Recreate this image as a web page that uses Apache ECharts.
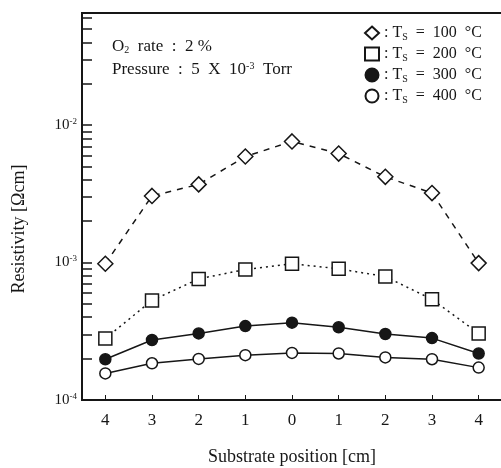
<!DOCTYPE html>
<html>
 <head>
  <meta charset="utf-8" />
  <title>Resistivity vs substrate position</title>
  <script src="https://cdn.jsdelivr.net/npm/echarts@6/dist/echarts.min.js"></script>
  <style>
   html, body { margin: 0; padding: 0; background: #fff; }
  </style>
 </head>
 <body>
  <div id="main" style="width: 501px;height:468px;"></div>
  <script type="text/javascript">

    // substrate position [cm], centre = 0
    var positions = ['4', '3', '2', '1', '0', '1', '2', '3', '4'];
    var temps = ['100', '200', '300', '400'];

    // resistivity [Ohm cm]
    var rho100 = [9.8e-4, 3.05e-3, 3.7e-3, 5.9e-3, 7.6e-3, 6.2e-3, 4.2e-3, 3.2e-3, 9.9e-4];
    var rho200 = [2.8e-4, 5.3e-4, 7.6e-4, 8.9e-4, 9.8e-4, 9.0e-4, 7.9e-4, 5.4e-4, 3.05e-4];
    var rho300 = [1.98e-4, 2.73e-4, 3.05e-4, 3.45e-4, 3.65e-4, 3.38e-4, 3.02e-4, 2.82e-4, 2.18e-4];
    var rho400 = [1.56e-4, 1.85e-4, 1.99e-4, 2.12e-4, 2.2e-4, 2.18e-4, 2.04e-4, 1.98e-4, 1.72e-4];

    var yMajor = [1e-4, 1e-3, 1e-2];
    var yMinor = [];
    [1e-4, 1e-3, 1e-2].forEach(function (d) {
        for (var k = 1; k <= 9; k++) {
            if (d * k <= 0.065) yMinor.push(d * k);
        }
    });

    var ink = '#161616';
    var serif = '"Liberation Serif", "DejaVu Serif", serif';

    var myChart = echarts.init(document.getElementById('main'));

    function mkSeries(name, data, symbol, size, fill, lineType) {
        return {
            name: name,
            type: 'line',
            data: data,
            symbol: symbol,
            symbolSize: size,
            showAllSymbol: true,
            z: 3,
            lineStyle: { color: ink, width: 1.5, type: lineType },
            itemStyle: { color: fill, borderColor: ink, borderWidth: 1.5 },
            emphasis: { disabled: true }
        };
    }

    myChart.setOption({
        animation: false,
        backgroundColor: '#fff',
        textStyle: { fontFamily: serif, color: ink },
        grid: {
            left: 82, top: 13, width: 420, height: 387,
            outerBoundsMode: 'none',
            containLabel: false,
            show: true, borderColor: ink, borderWidth: 2, backgroundColor: 'transparent'
        },
        legend: {
            orient: 'vertical',
            left: 364, top: 24,
            padding: 0,
            itemWidth: 14, itemHeight: 13,
            itemGap: 3,
            selectedMode: false,
            data: [
                { name: temps[0], icon: 'diamond' },
                { name: temps[1], icon: 'rect' },
                { name: temps[2], icon: 'circle' },
                { name: temps[3], icon: 'circle' }
            ],
            formatter: function (n) { return ': T{s|S}  =  ' + n + '  °C'; },
            textStyle: {
                fontFamily: serif, fontSize: 16, color: ink, lineHeight: 18,
                rich: { s: { fontSize: 10, lineHeight: 18, verticalAlign: 'bottom', padding: [7, 0, 0, 0], fontFamily: serif } }
            }
        },
        xAxis: {
            type: 'category',
            data: positions,
            boundaryGap: true,
            name: 'Substrate position [cm]',
            nameLocation: 'middle',
            nameGap: 48,
            nameTextStyle: { fontFamily: serif, fontSize: 18, color: ink },
            axisLine: { lineStyle: { color: ink, width: 2 } },
            axisTick: { show: true, inside: true, alignWithLabel: true, length: 5, lineStyle: { color: ink, width: 1 } },
            axisLabel: { fontFamily: serif, fontSize: 17, color: ink, margin: 12 },
            splitLine: { show: false }
        },
        yAxis: {
            type: 'log',
            logBase: 10,
            min: 1e-4,
            max: 0.0653,
            axisLine: { show: true, lineStyle: { color: ink, width: 2 } },
            axisTick: { show: true, inside: true, length: 10, customValues: yMinor, lineStyle: { color: ink, width: 1.5 } },
            axisLabel: {
                customValues: yMajor,
                margin: 5,
                formatter: function (v) {
                    return '10{p|' + Math.round(Math.log10(v)) + '}';
                },
                fontFamily: serif, fontSize: 15, color: ink,
                rich: { p: { fontSize: 9, verticalAlign: 'top', padding: [0, 0, 7, 0], fontFamily: serif } }
            },
            splitLine: { show: false },
            minorTick: { show: false }
        },
        graphic: [
            {
                // y axis title sits a bit below the axis middle in the original
                type: 'text', x: 19, y: 229, rotation: Math.PI / 2,
                style: {
                    text: 'Resistivity [Ωcm]',
                    font: '18px ' + serif, fill: ink,
                    align: 'center', verticalAlign: 'middle'
                }
            },
            {
                type: 'text', left: 112, top: 38,
                style: {
                    text: 'O{s|2}  rate  :  2 %',
                    font: '17px ' + serif, fill: ink,
                    rich: { s: { fontSize: 10, padding: [8, 0, 0, 0], fontFamily: serif } }
                }
            },
            {
                type: 'text', left: 112, top: 61,
                style: {
                    text: 'Pressure  :  5  X  10{p|-3}  Torr',
                    font: '17px ' + serif, fill: ink,
                    rich: { p: { fontSize: 10, padding: [0, 0, 8, 0], fontFamily: serif } }
                }
            }
        ],
        series: [
            mkSeries(temps[0], rho100, 'diamond', 15, '#fff', [6, 6]),
            mkSeries(temps[1], rho200, 'rect', 13, '#fff', [2, 4]),
            mkSeries(temps[2], rho300, 'circle', 11, ink, 'solid'),
            mkSeries(temps[3], rho400, 'circle', 11, '#fff', 'solid')
        ]
    });
  </script>
 </body>
</html>
